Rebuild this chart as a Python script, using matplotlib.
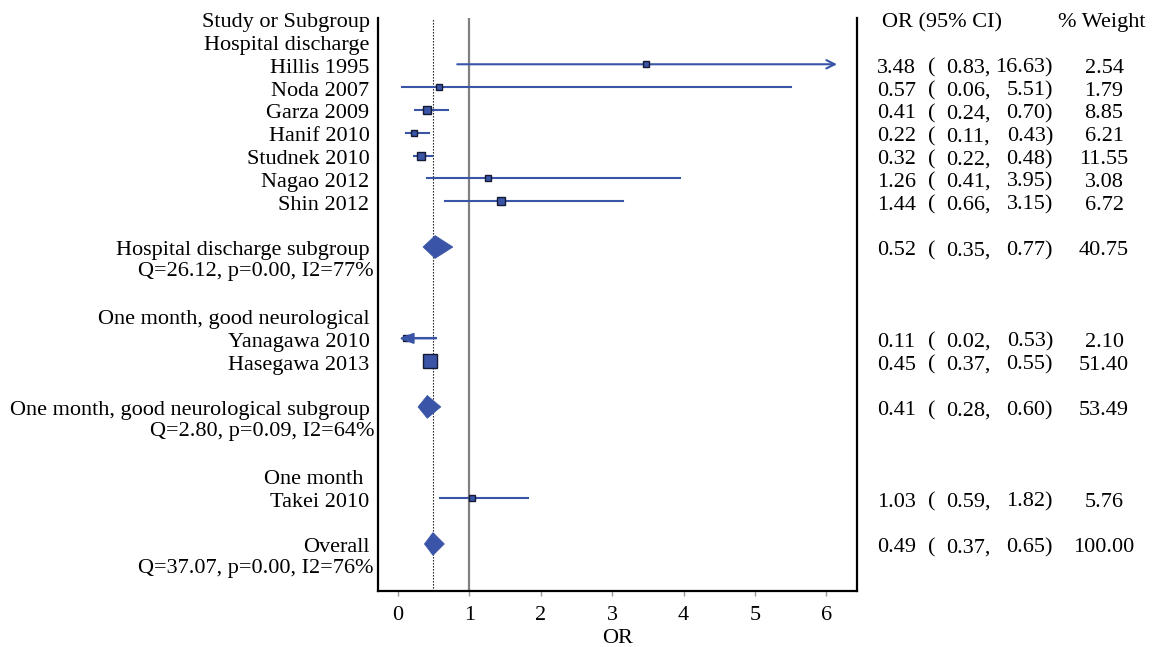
import matplotlib
matplotlib.use("Agg")
import matplotlib.pyplot as plt
import matplotlib.transforms as mtransforms
from matplotlib.patches import Polygon
import numpy as np

plt.rcParams['font.family'] = ['Liberation Serif', 'DejaVu Serif']

# ---------------- data ----------------
group_labels = ["Hospital discharge", "One month, good neurological", "One month "]
group_sizes = [7, 2, 1]

study_labels = ["Hillis 1995", "Noda 2007", "Garza 2009", "Hanif 2010", "Studnek 2010",
                "Nagao 2012", "Shin 2012", "Yanagawa 2010", "Hasegawa 2013", "Takei 2010"]
study_or = [3.48, 0.57, 0.41, 0.22, 0.32, 1.26, 1.44, 0.11, 0.45, 1.03]
study_lo = [0.83, 0.06, 0.24, 0.11, 0.22, 0.41, 0.66, 0.02, 0.37, 0.59]
study_hi = [16.63, 5.51, 0.70, 0.43, 0.48, 3.95, 3.15, 0.53, 0.55, 1.82]
study_wt = [2.54, 1.79, 8.85, 6.21, 11.55, 3.08, 6.72, 2.10, 51.40, 5.76]

subgroup_labels = ["Hospital discharge subgroup", "One month, good neurological subgroup"]
subgroup_stats = ["Q=26.12, p=0.00, I2=77%", "Q=2.80, p=0.09, I2=64%"]
subgroup_or = [0.52, 0.41]
subgroup_lo = [0.35, 0.28]
subgroup_hi = [0.77, 0.60]
subgroup_wt = [40.75, 53.49]

overall_label = "Overall"
overall_stats = "Q=37.07, p=0.00, I2=76%"
overall_or = 0.49
overall_lo = 0.37
overall_hi = 0.65
overall_wt = 100.00

x_ticks = [0, 1, 2, 3, 4, 5, 6]
x_label = "OR"
header_left = "Study or Subgroup"
header_ci = "OR (95% CI)"
header_wt = "% Weight"

# ---------------- style ----------------
W, H = 1153, 647
BLUE = "#3a55a7"
EDGE = "#151a33"
FS = 16.0
XCLIP_HI = 6.15
XCLIP_LO = 0.012
BASE = 0.37   # baseline offset (rows) for text

fig = plt.figure(figsize=(W / 100, H / 100), dpi=100)
ax = fig.add_axes([378 / W, (H - 591) / H, (857 - 378) / W, (591 - 18) / H])
ax.set_xlim(-0.28, 6.43)
ax.set_ylim(25.06, -0.026)

# layout rows
rows_group, rows_study, rows_sub = [], [], []
r = 1
for gi, n in enumerate(group_sizes):
    rows_group.append(r)
    r += 1
    rows_study.extend(range(r, r + n))
    r += n
    if n > 1:
        r += 1
        rows_sub.append(r)
        r += 3
    else:
        r += 1
row_overall = r

def fx(px):
    return px / W

tr = mtransforms.blended_transform_factory(fig.transFigure, ax.transData)

def txt(xpx, rr, s, ha):
    ax.text(fx(xpx), rr + BASE, s, transform=tr, ha=ha, va="baseline", fontsize=FS)

# reference lines
ax.axvline(1, color="#808080", lw=1.6, zorder=1)
ax.axvline(overall_or, color="black", lw=0.8, ls=(0, (1.2, 1.5)), zorder=1)

# studies
for lab, o, lo, hi, w, rr in zip(study_labels, study_or, study_lo, study_hi, study_wt, rows_study):
    side_px = 4.3 + 1.6 * np.sqrt(w)
    mew = 1.0
    ax.plot([o], [rr], marker="s", ms=side_px * 0.72 - mew, mfc=BLUE, mec=EDGE, mew=mew,
            ls="none", zorder=3)
    if hi > XCLIP_HI:
        ax.annotate("", xy=(XCLIP_HI, rr), xytext=(lo, rr),
                    arrowprops=dict(arrowstyle="->,head_length=0.6,head_width=0.3",
                                    color=BLUE, lw=1.5, shrinkA=0, shrinkB=0,
                                    mutation_scale=10), zorder=2)
    elif lo < 0.05:
        ax.plot([o, hi], [rr, rr], color=BLUE, lw=1.5, zorder=2)
        ax.annotate("", xy=(XCLIP_LO, rr), xytext=(hi, rr),
                    arrowprops=dict(arrowstyle="-|>,head_length=0.85,head_width=0.32",
                                    color=BLUE, lw=1.5, shrinkA=0, shrinkB=0,
                                    mutation_scale=10), zorder=4)
    else:
        ax.plot([lo, hi], [rr, rr], color=BLUE, lw=1.5, zorder=2)

# diamonds
def diamond(o, lo, hi, rr):
    h = 0.5
    ax.add_patch(Polygon([(lo, rr), (o, rr - h), (hi, rr), (o, rr + h)], closed=True,
                         facecolor=BLUE, edgecolor=BLUE, lw=0.5, zorder=3))

for o, lo, hi, rr in zip(subgroup_or, subgroup_lo, subgroup_hi, rows_sub):
    diamond(o, lo, hi, rr)
diamond(overall_or, overall_lo, overall_hi, row_overall)

# spines / ticks
for s in ["left", "right", "bottom"]:
    ax.spines[s].set_linewidth(1.6)
    ax.spines[s].set_color("black")
ax.spines["top"].set_visible(False)
ax.set_yticks([])
ax.set_xticks(x_ticks)
ax.set_xticklabels([str(t) for t in x_ticks], fontsize=FS)
ax.tick_params(axis="x", direction="out", length=3.5, width=1.0, color="#999999", pad=7)
ax.set_xlabel(x_label, fontsize=FS, labelpad=3)

# left texts
LX = 369.5
QX = 374
QOFF = 0.9
txt(LX, 0, header_left, "right")
for lab, rr in zip(group_labels, rows_group):
    txt(LX, rr, lab, "right")
for lab, rr in zip(study_labels, rows_study):
    txt(LX, rr, lab, "right")
for lab, st, rr in zip(subgroup_labels, subgroup_stats, rows_sub):
    txt(LX, rr, lab, "right")
    txt(QX, rr + QOFF, st, "right")
txt(LX, row_overall, overall_label, "right")
txt(QX, row_overall + QOFF, overall_stats, "right")

# right texts
txt(882, 0, header_ci, "left")
txt(1058, 0, header_wt, "left")

def right_cols(o, lo, hi, w, rr):
    txt(877, rr, f"{o:.2f}", "left")
    txt(928, rr, "(", "left")
    txt(946, rr, f"{lo:.2f},", "left")
    txt(1053, rr, f"{hi:.2f})", "right")
    txt(1104, rr, f"{w:.2f}", "center")

for o, lo, hi, w, rr in zip(study_or, study_lo, study_hi, study_wt, rows_study):
    right_cols(o, lo, hi, w, rr)
for o, lo, hi, w, rr in zip(subgroup_or, subgroup_lo, subgroup_hi, subgroup_wt, rows_sub):
    right_cols(o, lo, hi, w, rr)
right_cols(overall_or, overall_lo, overall_hi, overall_wt, row_overall)

fig.savefig("out.png", dpi=100)
